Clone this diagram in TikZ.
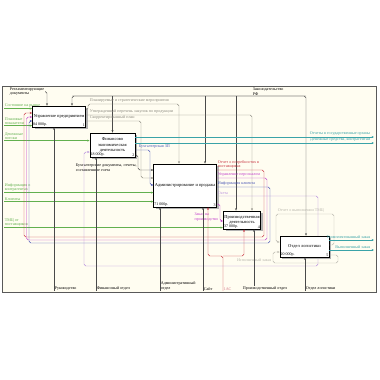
\documentclass[tikz,border=0pt]{standalone}
\usepackage{fontspec}
\setmainfont{Liberation Serif}
\usetikzlibrary{arrows.meta, positioning, shadows, backgrounds}

\definecolor{paper}{HTML}{FFFDF1}
\definecolor{inpgreen}{HTML}{62B04E}
\definecolor{outteal}{HTML}{3AA3A8}
\definecolor{ctlgray}{HTML}{4A4A4A}
\definecolor{midgray}{HTML}{8C8A80}
\definecolor{loopgray}{HTML}{B8B6AC}
\definecolor{redline}{HTML}{C8323F}
\definecolor{magline}{HTML}{C23FCB}
\definecolor{blueline}{HTML}{4753B5}
\definecolor{violine}{HTML}{B58BDD}
\definecolor{pinktxt}{HTML}{D4788A}

\begin{document}
\begin{tikzpicture}[x=1pt, y=-1pt,
  act/.style={draw=black, line width=0.8pt, fill=white, align=center,
              inner sep=1pt, font=\fontsize{4.5}{5.1}\selectfont,
              drop shadow={shadow xshift=2.4pt, shadow yshift=-2.4pt, fill=gray!60, opacity=1}},
  lbl/.style={font=\fontsize{4.1}{4.6}\selectfont, inner sep=0.6pt, align=left},
  cost/.style={font=\fontsize{4}{4.5}\selectfont, inner sep=0.9pt},
  arr/.style={-{Stealth[length=2.4pt, width=2pt]}, line width=0.45pt, rounded corners=1.8pt},
  ln/.style={line width=0.45pt, rounded corners=1.8pt}
]
  \useasboundingbox (0,0) rectangle (380,380);
  \begin{scope}[on background layer]
    \fill[white] (0,0) rectangle (380,380);
    \draw[gray!70!black, line width=0.6pt, fill=paper] (2,86) rectangle (376,292);
  \end{scope}

  % activities
  \node[act, minimum width=52pt, minimum height=21pt] (mgmt) at (59,116.5) {Управление предприятием};
  \node[act, minimum width=45pt, minimum height=24pt] (fin)  at (112.5,145) {Финансово\\экономическая\\деятельность};
  \node[act, minimum width=60pt, minimum height=43pt] (adm)  at (185,185.5) {Администрирование и продажа};
  \node[act, minimum width=36pt, minimum height=18pt] (prod) at (242,220) {Производственная\\деятельность};
  \node[act, minimum width=49pt, minimum height=21pt] (log)  at (304.5,246.5) {Отдел логистики};

  \node[cost, anchor=south west] (mgmtCost) at (mgmt.south west) {84 000р.};
  \node[cost, anchor=south east] (mgmtNo)   at (mgmt.south east) {1};
  \node[cost, anchor=south west] (finCost)  at (fin.south west) {18 000р.};
  \node[cost, anchor=south east] (finNo)    at (fin.south east) {2};
  \node[cost, anchor=south west] (admCost)  at (adm.south west) {71 000р.};
  \node[cost, anchor=south east] (admNo)    at (adm.south east) {3};
  \node[cost, anchor=south west] (prodCost) at (prod.south west) {37 000р.};
  \node[cost, anchor=south east] (prodNo)   at (prod.south east) {4};
  \node[cost, anchor=south west] (logCost)  at (log.south west) {20 000р.};
  \node[cost, anchor=south east] (logNo)    at (log.south east) {5};

  % controls from the top
  \node[lbl, anchor=east] (regDocs) at (45,91.5) {Регламентирующие\\документы};
  \draw[arr, ctlgray] (regDocs.east) -| (mgmt.north -| 47,0);
  \node[lbl, anchor=south west] (law) at (252,96) {Законодательство\\РФ};
  \coordinate (busW) at (72,96);
  \coordinate (busE) at (306,96);
  \draw[arr, ctlgray] (busE) -- (busW) -- (mgmt.north -| busW);
  \draw[arr, ctlgray] (busW) -- (busE) -- (log.north -| busE);
  \draw[arr, ctlgray] (fin.north |- busW) -- (fin.north);
  \draw[arr, ctlgray] (busW -| 205,0) -- (adm.north -| 205,0);
  \draw[arr, ctlgray] (busW -| 236,0) -- (prod.north -| 236,0);

  \node[lbl, midgray, anchor=south west] (planLbl) at (89,103.5) {Планируемые и стратегические мероприятия};
  \draw[arr, midgray] (mgmt.east |- 0,110) -- (88,110) -- (88,104) -| (adm.north -| 179,0);
  \node[lbl, midgray, anchor=south west] (listLbl) at (89,114.5) {Утвержденный перечень закупок по продукции};
  \draw[arr, midgray] (mgmt.east |- 0,115) -| (prod.north -| 252,0);
  \node[lbl, midgray, anchor=south west] (corrLbl) at (89,120.5) {Скорректированный план};
  \draw[arr, midgray] (mgmt.east |- 0,121) -- (141,121) |- (adm.west |- 0,178);

  % inputs
  \node[lbl, inpgreen, anchor=south west] (mktLbl) at (4,108.6) {Состояние на рынке};
  \draw[arr, inpgreen] (mktLbl.south west) -- (mgmt.west |- mktLbl.south west);
  \node[lbl, inpgreen, anchor=south west] (goalLbl) at (4,125.6) {Плановые\\показатели};
  \draw[arr, inpgreen] (goalLbl.south west) -- (mgmt.west |- goalLbl.south west);
  \node[lbl, inpgreen, anchor=south west] (cashLbl) at (4,140.6) {Денежные\\потоки};
  \draw[arr, inpgreen] (cashLbl.south west) -- (fin.west |- cashLbl.south west);
  \node[lbl, inpgreen, anchor=south west] (partLbl) at (4,192.6) {Информация о\\контрагентах};
  \draw[arr, inpgreen] (partLbl.south west) -- (adm.west |- partLbl.south west);
  \node[lbl, inpgreen, anchor=south west] (custLbl) at (4,201.6) {Клиенты};
  \draw[arr, inpgreen] (custLbl.south west) -- (adm.west |- custLbl.south west);
  \node[lbl, inpgreen, anchor=south west] (goodsLbl) at (4,227.6) {ТМЦ от\\поставщиков};
  \draw[arr, inpgreen] (goodsLbl.south west) -- (prod.west |- goodsLbl.south west);

  % outputs of the finance block
  \coordinate (outRep) at (374,137);
  \coordinate (outMoney) at (374,143);
  \draw[arr, outteal] (fin.east |- outRep) -- (outRep);
  \draw[arr, outteal] (fin.east |- outMoney) -- (outMoney);
  \node[lbl, outteal, anchor=south east] (repLbl) at (371,136.6) {Отчеты в государственные органы};
  \node[lbl, outteal, anchor=south east] (moneyLbl) at (371,142.6) {Денежные средства, контрагентам};
  \node[lbl, blueline, anchor=south west] (zpLbl) at (138,149.6) {Бухгалтерская ЗП};
  \draw[arr, blueline] (fin.east |- 0,150) -- (150,150) |- (adm.west |- 0,185);
  \node[lbl, anchor=north west] (docsLbl) at (75,163) {Бухгалтерские документы, отчеты,\\составленные счета};
  \draw[arr, ctlgray] (fin.east |- 0,155) -- (138,155) |- (adm.west |- 0,170);

  % outputs of the sales block
  \node[lbl, redline, anchor=south west] (needLbl) at (217,169.6) {Отчет о потребностях в\\поставщиках};
  \draw[arr, redline] (adm.east |- 0,170) -- (264,170) |- (24,237) |- (mgmt.west |- 0,113);
  \node[lbl, magline, anchor=south west] (staffLbl) at (217,177.6) {Управление персоналом};
  \draw[arr, magline] (adm.east |- 0,178) -- (267,178) |- (26.5,240) |- (mgmt.west |- 0,117);
  \node[lbl, blueline, anchor=south west] (infoLbl) at (217,186.6) {Информация клиента};
  \draw[arr, blueline] (adm.east |- 0,187) -- (270,187) |- (29,243) |- (mgmt.west |- 0,121);
  \node[lbl, violine, anchor=south west] (billLbl) at (217,195.6) {Счета};
  \begin{scope}[on background layer]
    \draw[arr, violine] (adm.east |- 0,196) -- (318,196) |- (84,266) |- (fin.west |- 0,152);
  \end{scope}
  \node[lbl, magline, anchor=north east] (orderLbl) at (219,212) {Заказ на\\производство};
  \draw[arr, magline] (adm.east |- 0,204) -- (220,204) |- (prod.west |- 0,221);

  % logistics loops and outputs
  \node[lbl, loopgray, anchor=south west] (tmcLbl) at (277,213.6) {Отчет о выполнении ТМЦ};
  \draw[arr, loopgray] (log.east |- 0,245) -- (334,245) |- (276,214) |- (log.west |- 0,242);
  \node[lbl, loopgray, anchor=south east] (doneLbl) at (272,262.6) {Исполненный заказ};
  \draw[arr, loopgray] (log.east |- 0,255) -- (338,255) |- (273,263) |- (log.west |- 0,252);
  \coordinate (outKit) at (374,240);
  \coordinate (outDone) at (374,250);
  \draw[arr, outteal] (log.east |- outKit) -- (outKit);
  \draw[arr, outteal] (log.east |- outDone) -- (outDone);
  \node[lbl, outteal, anchor=south east] (kitLbl) at (371,239.6) {Укомплектованный заказ};
  \node[lbl, outteal, anchor=south east] (finLbl) at (371,249.6) {Выполненный заказ};

  % mechanisms
  \coordinate (mLeadFt) at (54,291);
  \node[lbl, anchor=south west] (mLead) at (mLeadFt) {Руководство};
  \draw[arr, ctlgray] (mLeadFt) -- (mgmt.south -| mLeadFt);
  \coordinate (mFinFt) at (96,291);
  \node[lbl, anchor=south west] (mFin) at (mFinFt) {Финансовый отдел};
  \draw[arr, ctlgray] (mFinFt) -- (fin.south -| mFinFt);
  \coordinate (mAdmFt) at (160,291);
  \node[lbl, anchor=south west] (mAdm) at (mAdmFt) {Административный\\отдел};
  \draw[arr, ctlgray] (mAdmFt) -- (adm.south -| mAdmFt);
  \coordinate (mSiteFt) at (203,291);
  \node[lbl, anchor=south west] (mSite) at (mSiteFt) {Сайт};
  \draw[arr, ctlgray] (mSiteFt) -- (adm.south -| mSiteFt);
  \coordinate (mOneFt) at (223,291);
  \coordinate (oneSplit) at (223,256);
  \node[lbl, pinktxt, anchor=south west] (mOne) at (mOneFt) {1АС};
  \draw[arr, redline] (mOneFt) -- (oneSplit) -| (adm.south -| 208,0);
  \draw[arr, redline] (oneSplit) -| (prod.south -| 244,0);
  \node[lbl, anchor=south west] (mProd) at (242,291) {Производственный отдел};
  \draw[arr, ctlgray] (mProd.north -| 254,0) -- (prod.south -| 254,0);
  \coordinate (mLogFt) at (305,291);
  \node[lbl, anchor=south west] (mLog) at (mLogFt) {Отдел логистики};
  \draw[arr, ctlgray] (mLogFt) -- (log.south -| mLogFt);
\end{tikzpicture}
\end{document}
